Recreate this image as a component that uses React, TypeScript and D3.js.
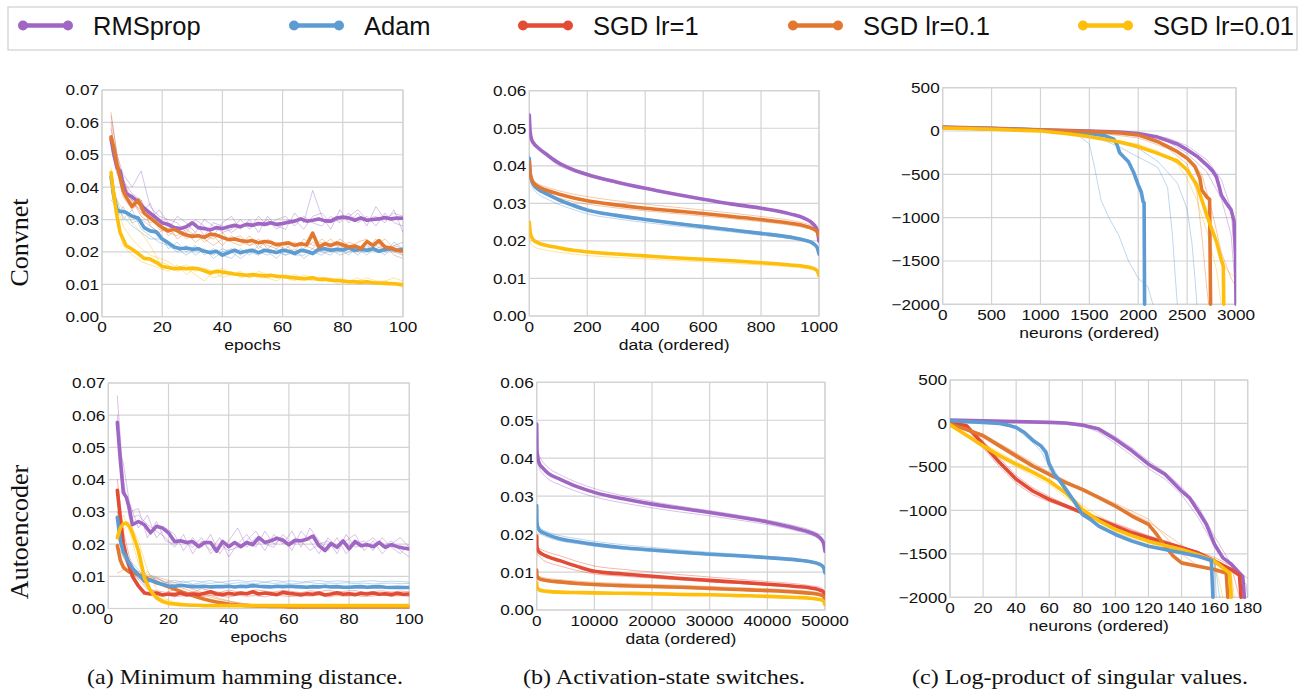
import React from "react";
import * as d3 from "d3";

// ---- series ----
const seriesNames = ["RMSprop", "Adam", "SGD lr=1", "SGD lr=0.1", "SGD lr=0.01"];
const seriesColors = ["#a066c3", "#5d9bd3", "#e24b36", "#e2782f", "#fdbf0b"];

// ---- x values ----
const epochsMain = [3, 4, 5, 6, 7, 8, 10, 12, 14, 16, 18, 20, 22, 24, 26, 28, 30, 32, 34, 36, 38, 40, 42, 44, 46, 48, 50,
  52, 54, 56, 58, 60, 62, 64, 66, 68, 70, 72, 74, 76, 78, 80, 82, 84, 86, 88, 90, 92, 94, 96, 98, 100];
const epochsThin = [3, 5, 7, 10, 13, 16, 19, 22, 25, 28, 31, 34, 37, 40, 43, 46, 49, 52, 55, 58, 61, 64, 67, 70, 73,
  76, 79, 82, 85, 88, 91, 94, 97, 100];
const convData = [0, 3, 8, 15, 30, 60, 100, 150, 200, 300, 400, 500, 600, 700, 800, 900, 950, 980, 993, 1000];
const aeData = [0, 50, 200, 500, 1000, 2000, 4000, 7000, 10000, 15000, 20000, 25000, 30000, 35000, 40000, 45000,
  47500, 49000, 49700, 50000];

// ---- ticks ----
const hamTicks = [0, 0.01, 0.02, 0.03, 0.04, 0.05, 0.06, 0.07];
const epochTicks = [0, 20, 40, 60, 80, 100];
const switchTicks = [0, 0.01, 0.02, 0.03, 0.04, 0.05, 0.06];
const convDataTicks = [0, 200, 400, 600, 800, 1000];
const aeDataTicks = [0, 10000, 20000, 30000, 40000, 50000];
const logTicks = [500, 0, -500, -1000, -1500, -2000];
const convNeuronTicks = [0, 500, 1000, 1500, 2000, 2500, 3000];
const aeNeuronTicks = [0, 20, 40, 60, 80, 100, 120, 140, 160, 180];

// ---- (a) Convnet: minimum hamming distance ----
const convHamRms = [.0548, .050, .046, .045, .041, .038,
  .037, .0355, .0335, .032, .0305, .029, .0285, .0275, .0272, .0278,
  .029, .0275, .0272, .0268, .0275, .0272, .0278, .0282, .0278, .0285,
  .0282, .0288, .0285, .029, .0285, .0288, .0292, .0295, .0302, .0295,
  .0298, .0302, .0296, .0295, .0305, .0308, .0305, .0298, .0305, .0298,
  .030, .0302, .0306, .0302, .0305, .0304];
const convHamAdam = [.0432, .037, .033, .0325, .0325, .0322,
  .031, .0305, .0275, .0265, .0262, .024, .0228, .0215, .021, .0212,
  .0208, .021, .0202, .0198, .0202, .019, .0198, .0205, .0198, .0202,
  .0205, .0198, .0205, .0202, .0198, .0205, .0202, .0195, .0205, .0202,
  .0195, .0208, .021, .0205, .0208, .0206, .0212, .0205, .0208, .0205,
  .021, .0202, .0208, .021, .0205, .0208];
const convHamSgd01 = [.0555, .052, .047, .043, .039, .037,
  .034, .036, .032, .0305, .029, .0275, .0265, .027, .026, .0252,
  .0248, .025, .0245, .0255, .0252, .0245, .0238, .024, .0235, .0232,
  .0235, .0228, .0232, .023, .0222, .0225, .0228, .022, .0225, .0222,
  .0258, .0215, .0225, .022, .0228, .0222, .0215, .0218, .021, .0232,
  .022, .0235, .0215, .0212, .0205, .0202];
const convHamSgd001 = [.0445, .037, .031, .026, .024, .022,
  .0208, .0195, .018, .0178, .0168, .0155, .0152, .0148, .015, .0148,
  .015, .0148, .0142, .0135, .014, .0138, .0135, .0132, .013, .0128,
  .013, .0128, .0126, .0128, .0125, .0124, .0122, .012, .0118, .0118,
  .012, .0115, .0116, .0113, .0112, .011, .0108, .0108, .0106, .0108,
  .0105, .0104, .0103, .0102, .0101, .0099];

const convHamRmsRuns = [
  [.062, .050, .044, .040, .045, .034, .031, .030, .029, .026, .030, .028, .025, .029, .031, .027, .030, .026, .031, .028,
    .027, .032, .029, .039, .031, .027, .033, .029, .032, .028, .034, .030, .032, .031],
  [.058, .047, .039, .036, .032, .035, .028, .027, .031, .029, .026, .030, .028, .026, .027, .030, .027, .031, .028, .030,
    .031, .028, .031, .029, .028, .031, .029, .032, .029, .031, .028, .032, .029, .028],
  [.052, .044, .042, .038, .036, .030, .033, .029, .026, .028, .029, .025, .029, .028, .026, .028, .029, .028, .030, .027,
    .029, .030, .027, .031, .032, .029, .030, .031, .033, .030, .031, .029, .033, .026],
];
const convHamAdamRuns = [
  [.041, .036, .030, .033, .027, .025, .023, .022, .020, .022, .019, .021, .018, .020, .021, .019, .021, .020, .019, .021,
    .019, .020, .021, .019, .022, .020, .021, .019, .022, .020, .021, .019, .022, .023],
  [.039, .031, .034, .029, .030, .028, .026, .021, .023, .020, .022, .019, .021, .019, .018, .021, .019, .022, .020, .018,
    .021, .019, .019, .021, .020, .019, .022, .021, .019, .022, .020, .021, .020, .019],
  [.036, .034, .031, .028, .026, .024, .024, .023, .021, .019, .021, .020, .019, .021, .020, .018, .020, .019, .021, .020,
    .019, .021, .018, .020, .019, .021, .019, .020, .021, .019, .022, .020, .023, .021],
];
const convHamSgd01Runs = [
  [.063, .050, .041, .036, .031, .029, .030, .025, .027, .024, .026, .023, .025, .022, .025, .023, .022, .024, .021, .023,
    .022, .020, .024, .022, .023, .021, .024, .022, .020, .023, .022, .024, .021, .019],
  [.060, .045, .037, .033, .036, .028, .026, .028, .024, .026, .023, .025, .024, .026, .023, .022, .025, .021, .024, .022,
    .021, .023, .021, .023, .022, .024, .021, .023, .022, .021, .024, .020, .022, .021],
  [.054, .048, .043, .035, .033, .032, .027, .026, .025, .027, .025, .024, .022, .024, .024, .025, .022, .023, .022, .021,
    .023, .022, .022, .021, .024, .022, .022, .021, .023, .024, .021, .022, .019, .018],
];
const convHamSgd001Runs = [
  [.042, .036, .033, .029, .026, .022, .017, .016, .014, .015, .013, .011, .014, .015, .013, .014, .012, .013, .012, .013,
    .012, .011, .013, .012, .011, .012, .011, .010, .011, .012, .011, .010, .010, .009],
  [.040, .029, .022, .019, .017, .016, .015, .014, .016, .013, .015, .014, .012, .013, .014, .012, .013, .012, .012, .011,
    .013, .012, .011, .012, .012, .011, .010, .011, .012, .010, .011, .011, .010, .010],
  [.046, .034, .028, .024, .021, .019, .018, .017, .015, .016, .014, .015, .014, .012, .013, .013, .012, .014, .013, .012,
    .012, .013, .012, .011, .012, .011, .012, .011, .010, .011, .010, .011, .012, .011],
];

// ---- (a) Autoencoder: minimum hamming distance ----
const aeHamRms = [.0578, .046, .036, .0345, .031, .026,
  .027, .026, .0235, .0255, .025, .0235, .0208, .021, .0205, .0208,
  .0192, .0205, .0205, .0178, .0208, .0192, .0205, .0192, .0205, .0198,
  .022, .0205, .021, .0218, .0212, .0198, .0212, .021, .0215, .0225,
  .0195, .018, .0202, .019, .021, .0185, .0208, .0195, .0198, .0192,
  .0205, .019, .0198, .0192, .0188, .0185];
const aeHamAdam = [.0283, .021, .0175, .016, .014, .0125,
  .0105, .0085, .0088, .008, .0075, .007, .0068, .0072, .007, .0068,
  .0068, .0069, .0067, .0068, .0068, .0069, .0067, .0069, .0068, .0071,
  .0069, .0068, .0067, .0069, .0068, .0069, .0068, .0067, .0066, .0068,
  .0067, .0069, .0067, .0068, .0066, .0066, .0067, .0068, .0066, .0067,
  .0068, .0066, .0065, .0066, .0065, .0065];
const aeHamSgd1 = [.0367, .028, .02, .016, .013, .01,
  .007, .0048, .0045, .0048, .0042, .0045, .0043, .0048, .0042, .0045,
  .0043, .0047, .0052, .0045, .0043, .0047, .0044, .0048, .0046, .0052,
  .0045, .0048, .0046, .0043, .005, .0047, .0045, .0042, .0046, .0044,
  .0048, .0042, .0045, .0049, .0044, .0046, .0043, .0047, .0045, .0048,
  .0044, .0046, .0043, .0047, .0044, .0045];
const aeHamSgd01 = [.0195, .015, .0128, .012, .0113, .011,
  .0105, .0097, .0088, .0082, .0074, .0067, .006, .0053, .0046, .004,
  .0034, .0029, .0024, .002, .0017, .0014, .0012, .001, .0009, .0008,
  .0007, .0007, .0006, .0006, .0006, .0005, .0005, .0005, .0005, .0005,
  .0005, .0005, .0005, .0005, .0005, .0005, .0005, .0005, .0005, .0005,
  .0005, .0005, .0005, .0005, .0005, .0005];
const aeHamSgd001 = [.022, .025, .0263, .0265, .0255, .0235,
  .018, .0095, .0055, .0033, .0022, .0016, .0014, .0012, .0011, .001,
  .001, .0009, .0009, .0009, .0009, .0009, .0009, .0009, .0009, .0009,
  .0009, .0009, .0009, .0009, .0009, .0009, .0009, .0009, .0009, .0009,
  .0009, .0009, .0009, .0009, .0009, .0009, .0009, .0009, .0009, .0009,
  .0009, .0009, .0009, .0009, .0009, .0009];

const aeHamRmsRuns = [
  [.066, .040, .028, .029, .026, .024, .022, .019, .023, .017, .021, .018, .022, .016, .020, .023, .019, .024, .020, .022,
    .018, .024, .021, .017, .022, .019, .021, .023, .018, .021, .017, .020, .022, .019],
  [.052, .045, .033, .025, .029, .022, .025, .023, .018, .022, .019, .023, .017, .021, .025, .019, .022, .018, .023, .020,
    .024, .019, .025, .021, .018, .022, .017, .020, .021, .018, .022, .019, .017, .020],
  [.060, .038, .030, .031, .022, .027, .021, .020, .021, .019, .022, .017, .020, .018, .019, .021, .024, .020, .019, .023,
    .020, .021, .018, .020, .021, .017, .023, .019, .020, .022, .019, .021, .018, .016],
];
const aeHamAdamRuns = [
  [.024, .018, .014, .011, .010, .0095, .008, .008, .0085, .0075, .008, .0078, .0082, .0076, .008, .0079, .0077, .0081,
    .0078, .008, .0076, .0079, .0081, .0077, .0079, .0078, .008, .0077, .0079, .0076, .0078, .0079, .0077, .0078],
  [.020, .016, .012, .009, .0115, .0085, .0072, .0075, .0068, .0073, .0066, .0071, .0068, .0072, .0067, .007, .0069,
    .0066, .0071, .0068, .007, .0067, .0069, .0068, .0066, .0069, .0067, .007, .0068, .0066, .0069, .0067, .0068, .0066],
  [.026, .020, .015, .012, .009, .0095, .0082, .0088, .008, .0086, .0083, .0087, .0081, .0085, .0088, .0083, .0086,
    .0082, .0087, .0084, .0086, .0082, .0085, .0087, .0083, .0086, .0084, .0082, .0085, .0086, .0083, .0085, .0084, .0082],
];
const aeHamSgd1Runs = [
  [.040, .024, .016, .009, .006, .0055, .005, .0058, .0052, .0048, .0062, .0055, .005, .0057, .0052, .0049, .0058, .0054,
    .0051, .0056, .0053, .0049, .0055, .0052, .0057, .0051, .0054, .0056, .005, .0053, .0055, .0051, .0054, .0052],
  [.034, .020, .012, .007, .0045, .0038, .0042, .0036, .004, .0043, .0037, .0041, .0039, .0035, .0042, .0038, .004,
    .0036, .0043, .0039, .0037, .0041, .0038, .0042, .0036, .004, .0038, .0041, .0037, .0039, .0042, .0038, .004, .0037],
  [.030, .022, .014, .010, .0065, .005, .0044, .0048, .0045, .0052, .0047, .0045, .005, .0046, .0044, .0049, .0046,
    .0048, .0043, .0047, .0045, .0049, .0044, .0047, .0046, .0043, .0048, .0045, .0047, .0044, .0046, .0048, .0045, .0044],
];
const aeHamSgd01Runs = [
  [.011, .012, .0115, .0108, .010, .0092, .0082, .0072, .0062, .0052, .0043, .0035, .0028, .0022, .0018, .0014, .0012,
    .001, .0009, .0008, .0007, .0007, .0006, .0006, .0006, .0005, .0005, .0005, .0005, .0005, .0005, .0005, .0005, .0005],
  [.024, .016, .013, .0115, .0105, .0098, .009, .0081, .007, .006, .005, .004, .0031, .0024, .0018, .0014, .0011, .0009,
    .0008, .0007, .0007, .0006, .0006, .0006, .0005, .0005, .0005, .0005, .0005, .0005, .0005, .0005, .0005, .0005],
];
const aeHamSgd001Runs = [
  [.018, .024, .027, .021, .012, .006, .003, .002, .0016, .0013, .0012, .0011, .001, .001, .0009, .0009, .0009, .0009,
    .0009, .0009, .0009, .0009, .0009, .0009, .0009, .0009, .0009, .0009, .0009, .0009, .0009, .0009, .0009, .0009],
  [.025, .029, .024, .014, .007, .004, .0025, .0018, .0014, .0012, .0011, .001, .001, .001, .0009, .0009, .0009, .0009,
    .0009, .0009, .0009, .0009, .0009, .0009, .0009, .0009, .0009, .0009, .0009, .0009, .0009, .0009, .0009, .0009],
];

// ---- (b) Convnet: activation-state switches ----
const convSwRms = [.0535, .049, .047, .046, .0448, .043, .0408, .039, .0377, .0357, .034, .0325, .0311, .0298, .0287,
  .0272, .026, .0245, .023, .0200];
const convSwAdam = [.042, .038, .0362, .035, .0338, .0325, .031, .0295, .0282, .0268, .0257, .0247, .0238, .0229, .022,
  .021, .0202, .0193, .0183, .0165];
const convSwSgd01 = [.041, .038, .0365, .0355, .0345, .0335, .0325, .0315, .0307, .0296, .0287, .028, .0273, .0265,
  .0257, .0247, .024, .0232, .0225, .0213];
const convSwSgd001 = [.025, .0222, .021, .0202, .0195, .0188, .0182, .0175, .0171, .0165, .016, .0155, .0151, .0147,
  .0142, .0136, .0132, .0127, .0121, .0108];
const convSwRmsRuns = [
  [.052, .048, .0465, .0458, .0447, .0432, .0413, .0394, .038, .0359, .0341, .0326, .0312, .0299, .0288, .0274, .0262,
    .0248, .0235, .021],
  [.054, .0495, .0472, .0462, .0445, .0426, .0402, .0386, .0373, .0354, .0338, .0323, .031, .0297, .0285, .027, .0258,
    .0242, .0226, .0195],
];
const convSwAdamRuns = [
  [.040, .0365, .0348, .0337, .0325, .0312, .0298, .0284, .0272, .0259, .0249, .024, .0232, .0224, .0215, .0206, .0198,
    .019, .018, .0162],
  [.043, .0385, .0368, .0356, .0343, .0329, .0314, .0299, .0286, .0271, .026, .025, .0241, .0232, .0223, .0213, .0205,
    .0196, .0186, .0168],
];
const convSwSgd01Runs = [
  [.040, .0378, .0368, .036, .0352, .0343, .0334, .0325, .0318, .0307, .0298, .029, .0282, .0274, .0265, .0255, .0247,
    .0239, .0231, .0218],
  [.039, .0365, .0355, .0345, .0335, .0325, .0315, .0305, .0298, .0288, .028, .0273, .0266, .0259, .0251, .0242, .0235,
    .0228, .0221, .021],
];
const convSwSgd001Runs = [
  [.021, .0195, .019, .0185, .018, .0175, .017, .0165, .0161, .0156, .0152, .0148, .0144, .014, .0136, .0131, .0127,
    .0123, .0118, .0105],
  [.024, .0215, .0205, .0198, .0192, .0186, .018, .0174, .017, .0164, .0159, .0154, .015, .0146, .0141, .0135, .0131,
    .0126, .012, .0107],
];

// ---- (b) Autoencoder: activation-state switches ----
const aeSwRms = [.049, .042, .040, .0385, .0375, .036, .0345, .0325, .031, .0293, .0279, .0268, .0257, .0245, .0232,
  .0215, .0204, .0192, .0178, .0155];
const aeSwAdam = [.0275, .023, .0218, .021, .0205, .0198, .0188, .018, .0173, .0164, .0158, .0152, .0147, .0143, .0138,
  .0132, .0127, .0121, .0113, .0098];
const aeSwSgd1 = [.0195, .0165, .0158, .0152, .0147, .014, .013, .0115, .0102, .0095, .0089, .0083, .0078, .0073, .0068,
  .0062, .0058, .0053, .0048, .0038];
const aeSwSgd01 = [.0105, .009, .0086, .0082, .008, .0077, .0074, .007, .0067, .0064, .0062, .006, .0057, .0054, .0051,
  .0047, .0044, .0041, .0037, .0028];
const aeSwSgd001 = [.0072, .006, .0056, .0053, .0051, .0049, .0047, .0046, .0045, .0044, .0043, .0041, .004, .0038,
  .0036, .0033, .0031, .0028, .0024, .0014];
const aeSwRmsRuns = [
  [.047, .0435, .042, .0405, .0392, .0375, .0357, .0336, .032, .0301, .0286, .0273, .0262, .025, .0237, .0221, .021,
    .0198, .0185, .016],
  [.045, .0405, .0388, .0372, .036, .0345, .033, .0312, .0298, .0282, .0269, .0258, .0248, .0237, .0225, .0209, .0198,
    .0186, .0172, .015],
];
const aeSwAdamRuns = [
  [.025, .0235, .0225, .0218, .0212, .0205, .0196, .0188, .0181, .0172, .0165, .0158, .0152, .0147, .0141, .0135, .013,
    .0124, .0116, .0102],
  [.024, .0222, .0212, .0204, .0198, .0191, .0182, .0175, .0168, .016, .0154, .0149, .0145, .014, .0136, .013, .0125,
    .0119, .0111, .0097],
];
const aeSwSgd1Runs = [
  [.018, .0168, .0165, .0162, .0158, .0152, .0143, .0128, .0116, .0107, .01, .0093, .0087, .0081, .0075, .0069, .0064,
    .006, .0054, .0042],
  [.0165, .0152, .0145, .014, .0133, .0125, .0116, .0104, .0095, .0089, .0084, .0079, .0074, .007, .0065, .006, .0056,
    .0052, .0047, .0036],
];
const aeSwSgd01Runs = [
  [.0098, .0092, .009, .0088, .0086, .0083, .008, .0076, .0073, .007, .0067, .0065, .0062, .0059, .0056, .0052, .0049,
    .0045, .0041, .0031],
  [.0088, .0083, .0081, .0079, .0077, .0074, .0071, .0067, .0064, .0061, .0059, .0057, .0054, .0052, .0049, .0045, .0042,
    .0039, .0035, .0027],
];
const aeSwSgd001Runs = [
  [.0065, .0058, .0055, .0053, .0051, .005, .0049, .0048, .0047, .0046, .0045, .0044, .0042, .004, .0038, .0035, .0033,
    .003, .0026, .0016],
  [.006, .0053, .005, .0048, .0046, .0045, .0044, .0043, .0042, .0041, .004, .0039, .0038, .0036, .0034, .0031, .0029,
    .0026, .0022, .0013],
];

// ---- (c) Convnet: log-product of singular values ----
const convLogRmsX = [0, 500, 1000, 1500, 1800, 2000, 2200, 2400, 2500, 2600, 2700, 2760, 2800, 2830, 2850, 2900, 2950, 2980, 2995, 3000];
const convLogRmsY = [45, 30, 15, 0, -12, -30, -70, -150, -215, -290, -390, -460, -530, -650, -740, -830, -910, -1040, -1400, -2000];
const convLogAdamX = [0, 500, 1000, 1500, 1650, 1750, 1780, 1810, 1850, 1900, 1950, 2000, 2030, 2050, 2060, 2065];
const convLogAdamY = [40, 28, 12, -27, -50, -95, -150, -250, -296, -354, -470, -623, -700, -815, -830, -2000];
const convLogSgd01X = [0, 500, 1000, 1500, 1800, 2000, 2200, 2400, 2500, 2580, 2630, 2650, 2700, 2730, 2740];
const convLogSgd01Y = [40, 28, 12, -5, -20, -45, -123, -238, -315, -410, -540, -680, -760, -790, -2000];
const convLogSgd001X = [0, 500, 1000, 1300, 1500, 1800, 2000, 2200, 2400, 2500, 2600, 2700, 2750, 2800, 2850, 2870, 2875];
const convLogSgd001Y = [35, 20, 0, -35, -65, -123, -180, -258, -346, -450, -623, -970, -1123, -1277, -1488, -1560, -2000];
const convLogRmsRuns = [
  { x: [0, 1000, 1500, 2000, 2300, 2500, 2700, 2850, 2950, 3000], y: [45, 15, 0, -25, -80, -170, -330, -560, -900, -1700] },
  { x: [0, 1000, 1500, 2000, 2300, 2500, 2700, 2850, 2950, 3000], y: [45, 15, 0, -40, -120, -260, -470, -780, -1200, -1900] },
];
const convLogAdamRuns = [
  { x: [0, 1000, 1400, 1500, 1550, 1620, 1700, 1800, 1900, 2000, 2100, 2150], y: [40, 10, -60, -150, -400, -800, -1000, -1200, -1500, -1700, -1800, -2000] },
  { x: [0, 1000, 1500, 1800, 2000, 2200, 2300, 2350, 2380, 2400], y: [40, 10, -40, -180, -300, -420, -650, -1200, -1700, -2000] },
  { x: [0, 1000, 1500, 2000, 2200, 2400, 2500, 2550, 2580, 2600], y: [40, 10, -30, -200, -350, -600, -900, -1300, -1700, -2000] },
];
const convLogSgd01Runs = [
  { x: [0, 1000, 1500, 2000, 2300, 2500, 2650, 2750, 2850, 2950, 3000], y: [40, 10, -10, -60, -160, -300, -500, -900, -1400, -1700, -1800] },
  { x: [0, 1000, 1500, 2000, 2300, 2500, 2600, 2650, 2700, 2720], y: [40, 10, -10, -80, -200, -380, -700, -1200, -1800, -2000] },
];
const convLogSgd001Runs = [
  { x: [0, 1000, 1500, 2000, 2300, 2500, 2600, 2700, 2800, 2900, 3000], y: [35, 0, -60, -200, -300, -450, -600, -900, -1300, -1600, -1700] },
  { x: [0, 1000, 1500, 2000, 2200, 2400, 2500, 2600, 2700, 2800, 2850], y: [35, 0, -70, -150, -230, -380, -550, -800, -1150, -1600, -2000] },
];

// ---- (c) Autoencoder: log-product of singular values ----
const aeLogRmsX = [0, 20, 40, 60, 70, 80, 90, 100, 110, 120, 130, 140, 145, 150, 155, 160, 165, 170, 175, 177, 178];
const aeLogRmsY = [38, 30, 23, 12, 5, -19, -65, -181, -315, -469, -585, -777, -860, -1008, -1160, -1392, -1546, -1615, -1720, -1760, -2000];
const aeLogAdamX = [0, 20, 30, 35, 40, 45, 50, 55, 58, 60, 63, 66, 70, 75, 80, 85, 90, 100, 110, 120, 130, 140, 150, 158, 159];
const aeLogAdamY = [31, 12, 0, -19, -46, -104, -192, -258, -330, -469, -585, -650, -758, -892, -1046, -1104, -1181, -1277, -1354, -1412, -1450, -1488, -1527, -1577, -2000];
const aeLogSgd1X = [0, 5, 10, 20, 30, 40, 50, 60, 70, 80, 90, 100, 110, 120, 130, 140, 150, 160, 170, 175, 176];
const aeLogSgd1Y = [10, -5, -27, -238, -450, -642, -777, -873, -950, -1027, -1104, -1181, -1258, -1315, -1373, -1431, -1488, -1585, -1681, -1746, -2000];
const aeLogSgd01X = [0, 10, 20, 30, 40, 50, 60, 70, 80, 90, 100, 110, 120, 125, 130, 135, 140, 150, 160, 167, 168];
const aeLogSgd01Y = [-8, -70, -142, -258, -373, -488, -585, -681, -758, -854, -950, -1065, -1162, -1277, -1412, -1527, -1604, -1642, -1681, -1720, -2000];
const aeLogSgd001X = [0, 10, 20, 30, 40, 50, 60, 70, 80, 90, 100, 110, 120, 130, 140, 150, 160, 165, 169, 170];
const aeLogSgd001Y = [-15, -135, -258, -370, -469, -560, -662, -800, -988, -1120, -1219, -1290, -1354, -1405, -1450, -1510, -1585, -1660, -1720, -2000];
const aeLogRmsRuns = [
  { x: [0, 40, 60, 80, 90, 100, 110, 120, 130, 140, 150, 160, 165, 170, 175, 178], y: [38, 20, 5, -30, -100, -230, -370, -520, -640, -820, -1080, -1420, -1560, -1640, -1740, -1800] },
  { x: [0, 40, 60, 70, 80, 90, 100, 110, 120, 130, 140, 150, 160, 170, 176, 179, 180], y: [38, 22, 8, 0, -10, -50, -150, -280, -430, -560, -730, -950, -1300, -1620, -1760, -1850, -2000] },
];
const aeLogAdamRuns = [
  { x: [0, 20, 30, 40, 45, 50, 55, 60, 65, 70, 80, 90, 100, 120, 140, 160, 161], y: [31, 12, 0, -30, -90, -170, -280, -430, -600, -720, -1020, -1170, -1260, -1400, -1480, -1560, -2000] },
  { x: [0, 20, 30, 40, 50, 55, 60, 65, 70, 80, 90, 100, 120, 140, 160, 163], y: [31, 12, 0, -60, -220, -320, -500, -640, -780, -1060, -1200, -1290, -1420, -1500, -1590, -2000] },
];
const aeLogSgd1Runs = [
  { x: [0, 10, 20, 30, 40, 50, 60, 70, 80, 90, 100, 120, 140, 160, 170, 177, 178], y: [5, -60, -280, -500, -690, -820, -900, -960, -1010, -1090, -1160, -1300, -1420, -1570, -1660, -1750, -2000] },
  { x: [0, 10, 20, 30, 40, 50, 60, 70, 80, 90, 100, 120, 140, 160, 170, 175], y: [10, -40, -200, -400, -600, -740, -840, -930, -1010, -1080, -1150, -1290, -1410, -1540, -1640, -2000] },
];
const aeLogSgd01Runs = [
  { x: [0, 20, 40, 60, 80, 100, 120, 140, 160, 175, 180], y: [-5, -160, -400, -600, -780, -940, -1130, -1400, -1620, -1720, -1780] },
  { x: [0, 20, 40, 60, 80, 100, 120, 130, 140, 150, 160, 170, 171], y: [-10, -120, -340, -560, -750, -920, -1100, -1300, -1500, -1640, -1700, -1750, -2000] },
];
const aeLogSgd001Runs = [
  { x: [0, 20, 40, 60, 80, 100, 120, 140, 160, 170, 172], y: [-10, -230, -440, -640, -940, -1180, -1330, -1430, -1560, -1700, -2000] },
  { x: [0, 20, 40, 60, 80, 100, 120, 140, 160, 165], y: [-20, -280, -500, -700, -1000, -1250, -1380, -1470, -1600, -2000] },
];

const captions = ["(a) Minimum hamming distance.", "(b) Activation-state switches.", "(c) Log-product of singular values."];
const rowLabels = ["Convnet", "Autoencoder"];

// ---- layout ----
const SANS = "'Liberation Sans', Arial, sans-serif";
const SERIF = "'Liberation Serif', 'Times New Roman', serif";
const GRID = "#d3d3d3";
const SX = 1.13; // axis text in the figure is slightly stretched horizontally
const LEGEND_X = [23, 294, 523, 793, 1083];
const CAPTION_X = [87, 523, 912];
const CAPTION_W = [316, 282, 336];

type Box = { x0: number; x1: number; y0: number; y1: number };
type Run = { s: number; x: number[]; y: number[]; thin?: boolean };

const mkRuns = (s: number, xs: number[], main: number[], runs: number[][]): Run[] => [
  ...runs.map((y) => ({ s, x: xs, y, thin: true })),
  { s, x: xs, y: main },
];
const mkRunsXY = (s: number, mx: number[], my: number[], runs: { x: number[]; y: number[] }[]): Run[] => [
  ...runs.map((r) => ({ s, x: r.x, y: r.y, thin: true })),
  { s, x: mx, y: my },
];

function SText(p: { x: number; y: number; anchor: string; size: number; dy?: string; children: string }) {
  return (
    <g transform={`translate(${p.x},${p.y}) scale(${SX},1)`}>
      <text x={0} y={0} dy={p.dy} textAnchor={p.anchor} fontSize={p.size}>{p.children}</text>
    </g>
  );
}

function Panel(props: {
  id: string; box: Box; xDomain: number[]; yDomain: number[]; xTicks: number[]; yTicks: number[];
  yFmt: (v: number) => string; xTitle: string; runs: Run[]; smooth?: boolean; tickGap: number; titleGap: number;
}) {
  const { id, box, runs } = props;
  const xs = d3.scaleLinear().domain(props.xDomain).range([box.x0, box.x1]);
  const ys = d3.scaleLinear().domain(props.yDomain).range([box.y1, box.y0]);
  const line = d3.line<[number, number]>()
    .x((d) => xs(d[0]))
    .y((d) => ys(d[1]))
    .curve(props.smooth ? d3.curveMonotoneX : d3.curveLinear);
  const path = (r: Run) => {
    const n = Math.min(r.x.length, r.y.length);
    return line(d3.range(n).map((i) => [r.x[i], r.y[i]] as [number, number])) || "";
  };
  const thin = runs.filter((r) => r.thin);
  const thick = runs.filter((r) => !r.thin);
  return (
    <g>
      <defs>
        <clipPath id={id}>
          <rect x={box.x0} y={box.y0 - 2} width={box.x1 - box.x0} height={box.y1 - box.y0 + 4} />
        </clipPath>
      </defs>
      {props.xTicks.map((t) => (
        <line key={"gx" + t} x1={xs(t)} x2={xs(t)} y1={box.y0} y2={box.y1} stroke={GRID} strokeWidth={1.2} />
      ))}
      {props.yTicks.map((t) => (
        <line key={"gy" + t} x1={box.x0} x2={box.x1} y1={ys(t)} y2={ys(t)} stroke={GRID} strokeWidth={1.2} />
      ))}
      <rect x={box.x0} y={box.y0} width={box.x1 - box.x0} height={box.y1 - box.y0} fill="none" stroke={GRID} strokeWidth={1.2} />
      <g clipPath={`url(#${id})`} fill="none" strokeLinejoin="round" strokeLinecap="round">
        {thin.map((r, i) => (
          <path key={"t" + i} d={path(r)} stroke={seriesColors[r.s]} strokeWidth={1} strokeOpacity={0.4} />
        ))}
        {thick.map((r, i) => (
          <path key={"m" + i} d={path(r)} stroke={seriesColors[r.s]} strokeWidth={3.6} />
        ))}
      </g>
      <g fontFamily={SANS} fill="#111">
        {props.yTicks.map((t) => (
          <SText key={"ly" + t} x={box.x0 - 3} y={ys(t)} dy="0.36em" anchor="end" size={15.2}>{props.yFmt(t)}</SText>
        ))}
        {props.xTicks.map((t) => (
          <SText key={"lx" + t} x={xs(t)} y={box.y1 + props.tickGap} anchor="middle" size={15.2}>{String(t)}</SText>
        ))}
        <SText x={(box.x0 + box.x1) / 2} y={box.y1 + props.titleGap} anchor="middle" size={15.5}>{props.xTitle}</SText>
      </g>
    </g>
  );
}

const fmt2 = d3.format(".2f");
const fmtInt = d3.format("d");

export default function App() {
  return (
    <div style={{ position: "absolute", left: 0, top: 0 }}>
      <svg width={1300} height={689} style={{ display: "block", background: "#fff" }}>
        {/* legend */}
        <rect x={8} y={7} width={1289} height={43} fill="#fff" stroke="#cfcfcf" strokeWidth={1.2} />
        {seriesNames.map((n, i) => (
          <g key={n}>
            <line x1={LEGEND_X[i]} x2={LEGEND_X[i] + 45} y1={25.5} y2={25.5} stroke={seriesColors[i]} strokeWidth={4.5} />
            <circle cx={LEGEND_X[i]} cy={25.5} r={5} fill={seriesColors[i]} />
            <circle cx={LEGEND_X[i] + 45} cy={25.5} r={5} fill={seriesColors[i]} />
            <text x={LEGEND_X[i] + 70} y={35} fontFamily={SANS} fontSize={25.5} fill="#111">{n}</text>
          </g>
        ))}

        {/* row labels */}
        <text transform="translate(28,242.5) rotate(-90)" textAnchor="middle" fontFamily={SERIF} fontSize={26} fill="#111">{rowLabels[0]}</text>
        <text transform="translate(28,532) rotate(-90)" textAnchor="middle" fontFamily={SERIF} fontSize={26} fill="#111">{rowLabels[1]}</text>

        <Panel id="p1" box={{ x0: 102, x1: 403, y0: 90, y1: 316.7 }} xDomain={[0, 100]} yDomain={[0, 0.07]}
          xTicks={epochTicks} yTicks={hamTicks} yFmt={fmt2} xTitle="epochs" tickGap={15.7} titleGap={33.5}
          runs={[
            ...convHamRmsRuns.map((y) => ({ s: 0, x: epochsThin, y, thin: true })),
            ...convHamAdamRuns.map((y) => ({ s: 1, x: epochsThin, y, thin: true })),
            ...convHamSgd01Runs.map((y) => ({ s: 3, x: epochsThin, y, thin: true })),
            ...convHamSgd001Runs.map((y) => ({ s: 4, x: epochsThin, y, thin: true })),
            { s: 0, x: epochsMain, y: convHamRms },
            { s: 1, x: epochsMain, y: convHamAdam },
            { s: 3, x: epochsMain, y: convHamSgd01 },
            { s: 4, x: epochsMain, y: convHamSgd001 },
          ]} />
        <Panel id="p2" box={{ x0: 529.3, x1: 819, y0: 90.7, y1: 316 }} xDomain={[0, 1000]} yDomain={[0, 0.06]}
          xTicks={convDataTicks} yTicks={switchTicks} yFmt={fmt2} xTitle="data (ordered)" tickGap={15.7} titleGap={33.5} smooth
          runs={[
            ...mkRuns(0, convData, convSwRms, convSwRmsRuns),
            ...mkRuns(1, convData, convSwAdam, convSwAdamRuns),
            ...mkRuns(3, convData, convSwSgd01, convSwSgd01Runs),
            ...mkRuns(4, convData, convSwSgd001, convSwSgd001Runs),
          ]} />
        <Panel id="p3" box={{ x0: 942.7, x1: 1236, y0: 87.7, y1: 304.3 }} xDomain={[0, 3000]} yDomain={[-2000, 500]}
          xTicks={convNeuronTicks} yTicks={logTicks} yFmt={fmtInt} xTitle="neurons (ordered)" tickGap={15.7} titleGap={33.5}
          runs={[
            ...mkRunsXY(0, convLogRmsX, convLogRmsY, convLogRmsRuns),
            ...mkRunsXY(1, convLogAdamX, convLogAdamY, convLogAdamRuns),
            ...mkRunsXY(3, convLogSgd01X, convLogSgd01Y, convLogSgd01Runs),
            ...mkRunsXY(4, convLogSgd001X, convLogSgd001Y, convLogSgd001Runs),
          ]} />

        <Panel id="p4" box={{ x0: 108.3, x1: 409.3, y0: 383, y1: 608.5 }} xDomain={[0, 100]} yDomain={[0, 0.07]}
          xTicks={epochTicks} yTicks={hamTicks} yFmt={fmt2} xTitle="epochs" tickGap={15.7} titleGap={33.5}
          runs={[
            ...aeHamRmsRuns.map((y) => ({ s: 0, x: epochsThin, y, thin: true })),
            ...aeHamAdamRuns.map((y) => ({ s: 1, x: epochsThin, y, thin: true })),
            ...aeHamSgd1Runs.map((y) => ({ s: 2, x: epochsThin, y, thin: true })),
            ...aeHamSgd01Runs.map((y) => ({ s: 3, x: epochsThin, y, thin: true })),
            ...aeHamSgd001Runs.map((y) => ({ s: 4, x: epochsThin, y, thin: true })),
            { s: 0, x: epochsMain, y: aeHamRms },
            { s: 3, x: epochsMain, y: aeHamSgd01 },
            { s: 2, x: epochsMain, y: aeHamSgd1 },
            { s: 1, x: epochsMain, y: aeHamAdam },
            { s: 4, x: epochsMain, y: aeHamSgd001 },
          ]} />
        <Panel id="p5" box={{ x0: 536.7, x1: 825, y0: 382.3, y1: 610 }} xDomain={[0, 50000]} yDomain={[0, 0.06]}
          xTicks={aeDataTicks} yTicks={switchTicks} yFmt={fmt2} xTitle="data (ordered)" tickGap={15.7} titleGap={33.5} smooth
          runs={[
            ...mkRuns(0, aeData, aeSwRms, aeSwRmsRuns),
            ...mkRuns(1, aeData, aeSwAdam, aeSwAdamRuns),
            ...mkRuns(2, aeData, aeSwSgd1, aeSwSgd1Runs),
            ...mkRuns(3, aeData, aeSwSgd01, aeSwSgd01Runs),
            ...mkRuns(4, aeData, aeSwSgd001, aeSwSgd001Runs),
          ]} />
        <Panel id="p6" box={{ x0: 950, x1: 1247.7, y0: 380, y1: 597.3 }} xDomain={[0, 180]} yDomain={[-2000, 500]}
          xTicks={aeNeuronTicks} yTicks={logTicks} yFmt={fmtInt} xTitle="neurons (ordered)" tickGap={15.7} titleGap={33.5}
          runs={[
            ...mkRunsXY(0, aeLogRmsX, aeLogRmsY, aeLogRmsRuns),
            ...mkRunsXY(2, aeLogSgd1X, aeLogSgd1Y, aeLogSgd1Runs),
            ...mkRunsXY(3, aeLogSgd01X, aeLogSgd01Y, aeLogSgd01Runs),
            ...mkRunsXY(4, aeLogSgd001X, aeLogSgd001Y, aeLogSgd001Runs),
            ...mkRunsXY(1, aeLogAdamX, aeLogAdamY, aeLogAdamRuns),
          ]} />

        {captions.map((c, i) => (
          <text key={c} x={CAPTION_X[i]} y={683.5} fontFamily={SERIF} fontSize={21} fill="#111"
            textLength={CAPTION_W[i]} lengthAdjust="spacingAndGlyphs">{c}</text>
        ))}
      </svg>
    </div>
  );
}
